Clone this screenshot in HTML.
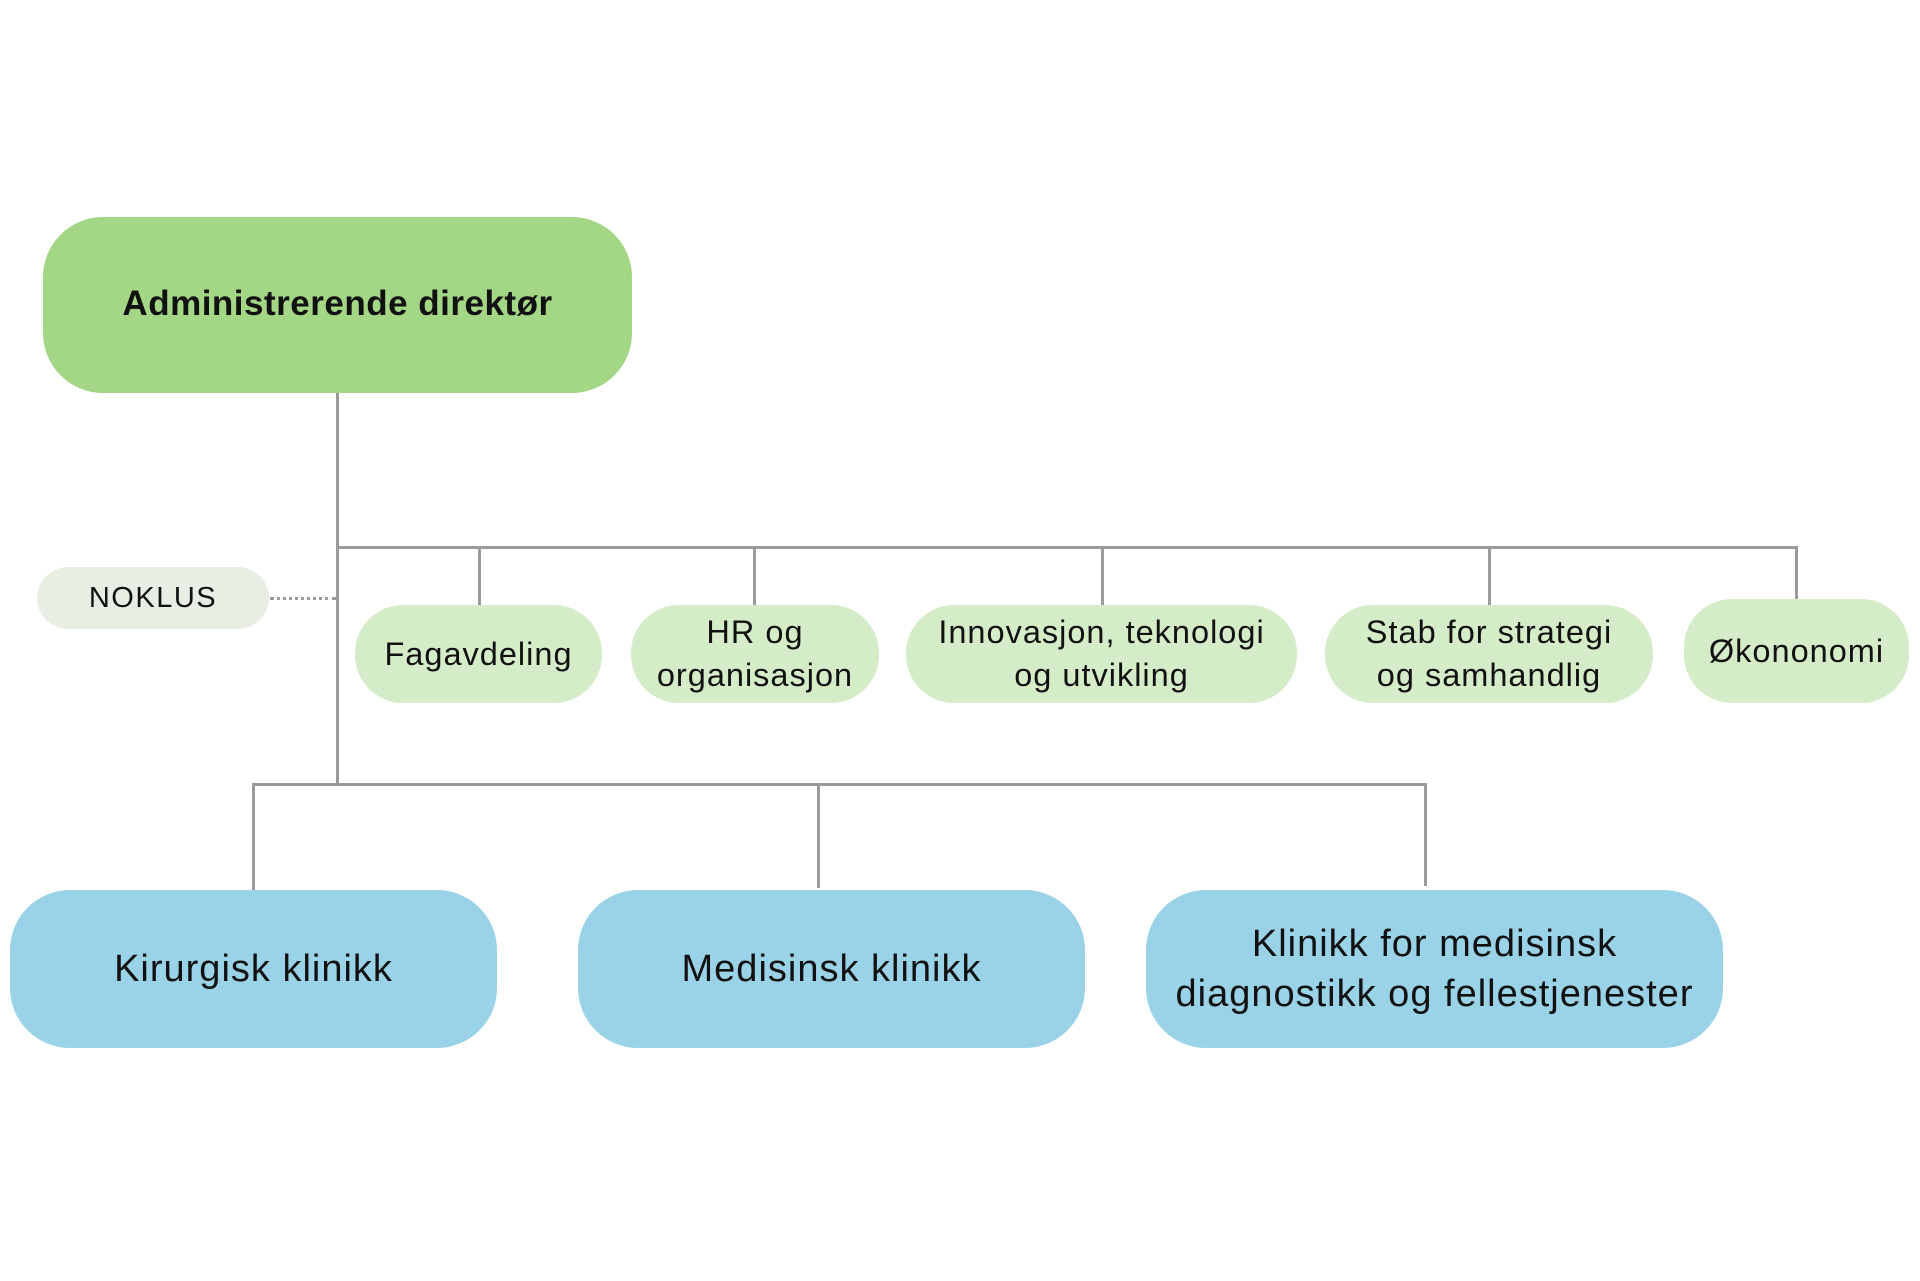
<!DOCTYPE html>
<html><head><meta charset="utf-8"><style>
body{margin:0;width:1920px;height:1281px;background:#fff;position:relative;overflow:hidden;font-family:"Liberation Sans",sans-serif;color:#111}
.b{position:absolute;display:flex;align-items:center;justify-content:center;text-align:center;box-sizing:border-box;white-space:nowrap}
.g{background:#d5ecc8;border-radius:48px;font-size:32.5px;line-height:43px;letter-spacing:1px}
.bl{background:#9ad3e8;border-radius:60px;font-size:38px;line-height:50px;letter-spacing:1px}
.l{position:absolute;background:#9a9a9a}
</style></head><body>
<div class="l" style="left:336px;top:393px;width:3px;height:392px"></div>
<div class="l" style="left:336px;top:546px;width:1462px;height:3px"></div>
<div class="l" style="left:478px;top:547px;width:3px;height:58px"></div>
<div class="l" style="left:753px;top:547px;width:3px;height:58px"></div>
<div class="l" style="left:1101px;top:547px;width:3px;height:58px"></div>
<div class="l" style="left:1488px;top:547px;width:3px;height:58px"></div>
<div class="l" style="left:1795px;top:546px;width:3px;height:54px"></div>
<div style="position:absolute;left:270px;top:597px;width:66px;border-top:3px dotted #9a9a9a"></div>
<div class="l" style="left:252px;top:783px;width:1175px;height:3px"></div>
<div class="l" style="left:252px;top:784px;width:3px;height:106px"></div>
<div class="l" style="left:817px;top:784px;width:3px;height:104px"></div>
<div class="l" style="left:1424px;top:784px;width:3px;height:102px"></div>

<div class="b" style="left:43px;top:217px;width:589px;height:176px;background:#a3d685;border-radius:60px;font-weight:bold;font-size:35px;letter-spacing:0.5px;padding-bottom:2px">Administrerende direktør</div>
<div class="b" style="left:37px;top:567px;width:232px;height:62px;background:#e8eee4;border-radius:31px;font-size:29px;letter-spacing:1.5px">NOKLUS</div>
<div class="b g" style="left:355px;top:605px;width:247px;height:98px">Fagavdeling</div>
<div class="b g" style="left:631px;top:605px;width:248px;height:98px">HR og<br>organisasjon</div>
<div class="b g" style="left:906px;top:605px;width:391px;height:98px">Innovasjon, teknologi<br>og utvikling</div>
<div class="b g" style="left:1325px;top:605px;width:328px;height:98px">Stab for strategi<br>og samhandlig</div>
<div class="b g" style="left:1684px;top:599px;width:225px;height:104px">Økononomi</div>
<div class="b bl" style="left:10px;top:890px;width:487px;height:158px">Kirurgisk klinikk</div>
<div class="b bl" style="left:578px;top:890px;width:507px;height:158px">Medisinsk klinikk</div>
<div class="b bl" style="left:1146px;top:890px;width:577px;height:158px">Klinikk for medisinsk<br>diagnostikk og fellestjenester</div>
</body></html>
